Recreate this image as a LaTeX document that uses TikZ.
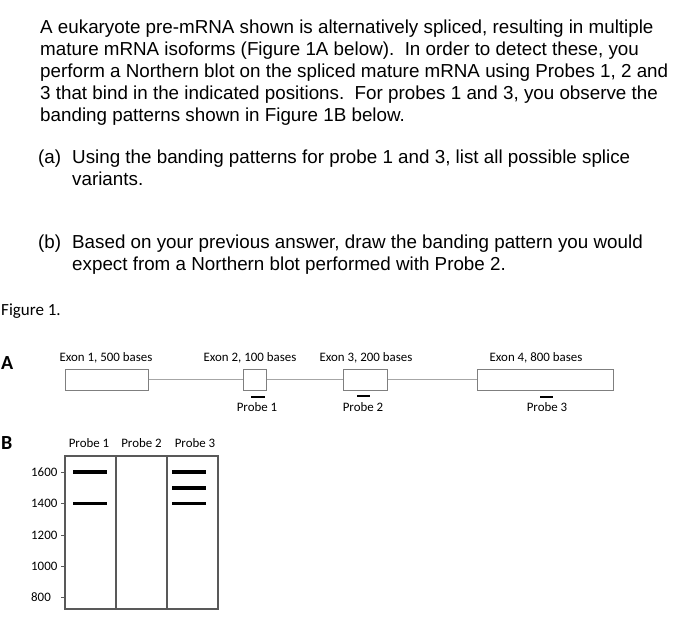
\documentclass[tikz,border=0pt]{standalone}
\usepackage{fontspec}
\setmainfont{Liberation Sans}
\newfontfamily\figfont{Carlito}
\usetikzlibrary{positioning}
\definecolor{exongray}{HTML}{7F7F7F}
\definecolor{introngray}{HTML}{A6A6A6}
\definecolor{gelgray}{HTML}{595959}
\tikzstyle{qtext} = [anchor=north west, inner sep=0pt, align=left, font=\fontsize{18.8}{22}\selectfont]
\tikzstyle{figlabel} = [inner sep=0pt, font=\figfont\fontsize{12.9}{14}\selectfont]
\tikzstyle{panel} = [anchor=west, inner sep=0pt, font=\figfont\bfseries\fontsize{20}{22}\selectfont]
\tikzstyle{exon} = [draw=exongray, line width=1pt, minimum height=21pt, inner sep=0pt]
\tikzstyle{intron} = [draw=introngray, line width=0.8pt]
\tikzstyle{probebar} = [line width=2pt]
\tikzstyle{lane} = [draw=gelgray, line width=1.2pt, minimum width=51pt, minimum height=153pt, inner sep=0pt, outer sep=0pt]
\tikzstyle{band} = [line width=3.5pt]
\tikzstyle{tick} = [line width=1pt, gelgray]

\begin{document}
\begin{tikzpicture}[x=1pt, y=-1pt]
                    \useasboundingbox (0,0) rectangle (700,642);
                    \fill[white] (0,0) rectangle (700,642);
                    % question text
                    \node[qtext] (intro) at (40,19.3) {A eukaryote pre-mRNA shown is alternatively spliced, resulting in multiple\\
                      mature mRNA isoforms (Figure 1A below).\ \ In order to detect these, you\\
                      perform a Northern blot on the spliced mature mRNA using Probes 1, 2 and\\
                      3 that bind in the indicated positions.\ \ For probes 1 and 3, you observe the\\
                      banding patterns shown in Figure 1B below.};
                    \node[qtext] (parta) at (38,149.3) {(a)};
                    \node[qtext] (partatext) at (72,149.3) {Using the banding patterns for probe 1 and 3, list all possible splice\\variants.};
                    \node[qtext] (partb) at (38,234.3) {(b)};
                    \node[qtext] (partbtext) at (72,234.3) {Based on your previous answer, draw the banding pattern you would\\expect from a Northern blot performed with Probe 2.};
                    \node[figlabel, anchor=west, font=\figfont\fontsize{17}{19}\selectfont] (figtitle) at (1,311) {Figure 1.};
                    % panel A: pre-mRNA
                    \node[panel] (panelA) at (1,363) {A};
                    \node[exon, minimum width=83pt] (exon1) at (106.5,379.5) {};
                    \node[exon, minimum width=23pt] (exon2) at (254.5,379.5) {};
                    \node[exon, minimum width=44pt] (exon3) at (365,379.5) {};
                    \node[exon, minimum width=136pt] (exon4) at (545,379.5) {};
                    \draw[intron] (exon1) -- (exon2);
                    \draw[intron] (exon2) -- (exon3);
                    \draw[intron] (exon3) -- (exon4);
                    \node[figlabel] (exonlab1) at (106,358) {Exon 1, 500 bases};
                    \node[figlabel] (exonlab2) at (250,358) {Exon 2, 100 bases};
                    \node[figlabel] (exonlab3) at (366,358) {Exon 3, 200 bases};
                    \node[figlabel] (exonlab4) at (536,358) {Exon 4, 800 bases};
                    \draw[probebar] (251,397) -- (265,397);
                    \draw[probebar] (357,396) -- (370,396);
                    \draw[probebar] (540,397) -- (553,397);
                    \node[figlabel] (probelab1) at (257,407) {Probe 1};
                    \node[figlabel] (probelab2) at (363,407) {Probe 2};
                    \node[figlabel] (probelab3) at (547,407) {Probe 3};
                    % panel B: northern blot
                    \node[panel] (panelB) at (1,443) {B};
                    \node[lane] (lane1) at (90.5,532.5) {};
                    \node[lane, right=0pt of lane1] (lane2) {};
                    \node[lane, right=0pt of lane2] (lane3) {};
                    \node[figlabel, above=8pt of lane1, xshift=-1.5pt] (lanelab1) {Probe 1};
                    \node[figlabel, above=8pt of lane2] (lanelab2) {Probe 2};
                    \node[figlabel, above=8pt of lane3, xshift=2.5pt] (lanelab3) {Probe 3};
                    \foreach \size/\y in {1600/472, 1400/503.5, 1200/535, 1000/566, 800/597} {
                        \draw[tick] (61,\y) -- (65,\y);
                        \node[figlabel, anchor=west] at (31,\y) {\size};
                    }
                    \foreach \y in {472, 503.5} \draw[band] (73,\y) -- (107,\y);
                    \foreach \y in {472, 488, 503.5} \draw[band] (172,\y) -- (206,\y);
                \end{tikzpicture}
\end{document}
